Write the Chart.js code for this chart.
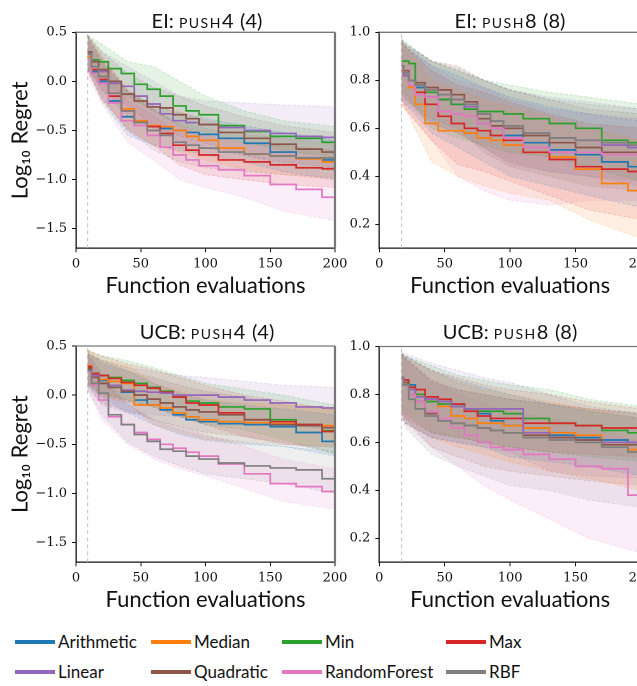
<!DOCTYPE html>
<html><head><meta charset="utf-8">
<script src="https://cdn.jsdelivr.net/npm/chart.js@4.4.1/dist/chart.umd.min.js"></script>
<style>
html,body{margin:0;padding:0;background:#fff;width:637px;height:686px;overflow:hidden;position:relative}
.pane{position:absolute}
.title{position:absolute;width:300px;font-family:Lato,sans-serif;font-size:20px;line-height:24px;color:#111;text-align:center;white-space:nowrap}
.sc{font-variant:small-caps;letter-spacing:1.5px}
.item{position:absolute;height:20px;line-height:20px;color:#111;font-family:Lato,sans-serif;font-size:17px;white-space:nowrap}
.sw{position:absolute;width:40px;height:4px;top:8px;left:0}
.lab{position:absolute;left:43px;top:0}
</style></head><body>
<div class="pane" style="left:0;top:0"><canvas id="c1" width="352" height="300"></canvas></div>
<div class="pane" style="left:300px;top:0"><canvas id="c2" width="360" height="300"></canvas></div>
<div class="pane" style="left:0;top:314px"><canvas id="c3" width="352" height="300"></canvas></div>
<div class="pane" style="left:300px;top:314px"><canvas id="c4" width="360" height="300"></canvas></div>
<div class="title" style="left:57px;top:8px">EI: <span class="sc">push4</span> (4)</div>
<div class="title" style="left:360px;top:8px">EI: <span class="sc">push8</span> (8)</div>
<div class="title" style="left:57px;top:319px">UCB: <span class="sc">push4</span> (4)</div>
<div class="title" style="left:360px;top:319px">UCB: <span class="sc">push8</span> (8)</div>
<div id="legend"></div>
<script>
// ---------------- data ----------------
const SERIES = ['Arithmetic','Median','Min','Max','Linear','Quadratic','RandomForest','RBF'];
const COLORS = ['#1f77b4','#ff7f0e','#2ca02c','#d62728','#9467bd','#8c564b','#e377c2','#7f7f7f'];
const X_TICKS = [0, 50, 100, 150, 200];
const Y_TICKS_PUSH4 = [-1.5, -1.0, -0.5, 0.0, 0.5];
const Y_TICKS_PUSH8 = [0.2, 0.4, 0.6, 0.8, 1.0];
const INIT_PUSH4 = 9;
const INIT_PUSH8 = 17;
// evaluation grids (mean lines / bands)
const X_PUSH4 = [9,15,20,30,40,50,60,70,80,90,100,120,140,160,180,200];
const X_PUSH8 = [17,20,25,30,40,50,60,70,80,90,100,120,140,160,180,200];
const B_PUSH4 = [9,20,40,60,80,100,130,160,200];
const B_PUSH8 = [17,20,40,60,80,100,130,160,200];

// EI: push4
const EI4_MEAN = {
  Arithmetic:  [0.25,0.1,0.0,-0.2,-0.36,-0.42,-0.46,-0.48,-0.5,-0.52,-0.54,-0.58,-0.63,-0.72,-0.78,-0.8],
  Median:      [0.25,0.12,0.05,-0.12,-0.28,-0.4,-0.45,-0.46,-0.5,-0.56,-0.6,-0.68,-0.74,-0.76,-0.79,-0.82],
  Min:         [0.28,0.22,0.2,0.13,0.08,-0.03,-0.08,-0.15,-0.25,-0.3,-0.34,-0.45,-0.51,-0.56,-0.58,-0.62],
  Max:         [0.28,0.12,0.02,-0.15,-0.3,-0.42,-0.46,-0.53,-0.65,-0.7,-0.75,-0.8,-0.82,-0.85,-0.88,-0.89],
  Linear:      [0.3,0.2,0.1,-0.02,-0.05,-0.15,-0.23,-0.33,-0.4,-0.42,-0.44,-0.47,-0.5,-0.53,-0.56,-0.57],
  Quadratic:   [0.3,0.2,0.12,0.0,-0.13,-0.2,-0.26,-0.27,-0.34,-0.38,-0.44,-0.52,-0.58,-0.64,-0.69,-0.72],
  RandomForest:[0.22,0.08,-0.02,-0.22,-0.4,-0.45,-0.55,-0.67,-0.75,-0.8,-0.86,-0.9,-0.96,-1.05,-1.1,-1.18],
  RBF:         [0.28,0.15,0.05,-0.12,-0.3,-0.42,-0.5,-0.55,-0.62,-0.65,-0.68,-0.72,-0.74,-0.76,-0.78,-0.78]
};
const EI4_LO = {
  Arithmetic:  [0.12,-0.2,-0.55,-0.65,-0.7,-0.75,-0.82,-0.92,-1.0],
  Median:      [0.1,-0.18,-0.48,-0.65,-0.72,-0.8,-0.9,-0.95,-1.0],
  Min:         [0.12,-0.02,-0.15,-0.3,-0.45,-0.52,-0.62,-0.7,-0.78],
  Max:         [0.12,-0.18,-0.5,-0.65,-0.85,-0.95,-1.0,-1.05,-1.08],
  Linear:      [0.14,-0.1,-0.25,-0.45,-0.62,-0.68,-0.75,-0.82,-0.88],
  Quadratic:   [0.14,-0.08,-0.35,-0.48,-0.55,-0.63,-0.75,-0.84,-0.92],
  RandomForest:[0.05,-0.22,-0.62,-0.8,-1.0,-1.08,-1.18,-1.32,-1.42],
  RBF:         [0.12,-0.15,-0.5,-0.7,-0.82,-0.88,-0.92,-0.95,-0.98]
};
const EI4_HI = {
  Arithmetic:  [0.45,0.2,-0.1,-0.25,-0.32,-0.38,-0.45,-0.52,-0.6],
  Median:      [0.45,0.25,-0.08,-0.25,-0.3,-0.4,-0.5,-0.58,-0.64],
  Min:         [0.47,0.38,0.2,0.15,0.0,-0.15,-0.3,-0.4,-0.46],
  Max:         [0.46,0.22,-0.1,-0.28,-0.45,-0.55,-0.62,-0.66,-0.7],
  Linear:      [0.47,0.3,0.15,0.0,-0.15,-0.2,-0.22,-0.24,-0.26],
  Quadratic:   [0.47,0.3,0.08,-0.06,-0.15,-0.25,-0.36,-0.45,-0.52],
  RandomForest:[0.4,0.18,-0.2,-0.35,-0.55,-0.66,-0.75,-0.85,-0.95],
  RBF:         [0.46,0.25,-0.1,-0.3,-0.42,-0.48,-0.54,-0.58,-0.6]
};

// EI: push8
const EI8_MEAN = {
  Arithmetic:  [0.84,0.83,0.8,0.77,0.73,0.72,0.7,0.69,0.62,0.6,0.57,0.54,0.51,0.49,0.46,0.44],
  Median:      [0.84,0.82,0.77,0.7,0.62,0.59,0.59,0.58,0.56,0.55,0.53,0.5,0.48,0.43,0.37,0.34],
  Min:         [0.88,0.88,0.87,0.78,0.75,0.72,0.7,0.68,0.67,0.67,0.66,0.64,0.62,0.6,0.55,0.54],
  Max:         [0.85,0.82,0.8,0.75,0.7,0.65,0.62,0.6,0.59,0.57,0.55,0.5,0.47,0.44,0.43,0.42],
  Linear:      [0.85,0.82,0.8,0.78,0.76,0.74,0.72,0.69,0.66,0.63,0.6,0.58,0.56,0.55,0.53,0.52],
  Quadratic:   [0.86,0.84,0.8,0.79,0.77,0.76,0.74,0.71,0.64,0.61,0.6,0.57,0.54,0.52,0.5,0.5],
  RandomForest:[0.85,0.83,0.78,0.74,0.73,0.67,0.66,0.65,0.62,0.6,0.56,0.52,0.5,0.5,0.49,0.49],
  RBF:         [0.86,0.83,0.8,0.78,0.76,0.74,0.72,0.7,0.66,0.63,0.61,0.58,0.56,0.55,0.54,0.53]
};
const EI8_LO = {
  Arithmetic:  [0.72,0.7,0.58,0.52,0.46,0.4,0.36,0.32,0.27],
  Median:      [0.7,0.68,0.46,0.4,0.36,0.33,0.3,0.22,0.14],
  Min:         [0.76,0.74,0.6,0.56,0.53,0.5,0.48,0.44,0.38],
  Max:         [0.72,0.68,0.55,0.45,0.42,0.38,0.32,0.26,0.22],
  Linear:      [0.72,0.7,0.62,0.58,0.52,0.45,0.42,0.4,0.36],
  Quadratic:   [0.74,0.72,0.64,0.6,0.5,0.44,0.4,0.36,0.34],
  RandomForest:[0.7,0.68,0.55,0.4,0.34,0.3,0.28,0.3,0.3],
  RBF:         [0.74,0.72,0.62,0.58,0.52,0.46,0.42,0.4,0.38]
};
const EI8_HI = {
  Arithmetic:  [0.96,0.94,0.86,0.82,0.77,0.73,0.69,0.66,0.63],
  Median:      [0.96,0.94,0.8,0.76,0.72,0.69,0.65,0.6,0.55],
  Min:         [0.97,0.96,0.88,0.84,0.8,0.78,0.75,0.73,0.7],
  Max:         [0.96,0.94,0.84,0.78,0.75,0.71,0.66,0.62,0.6],
  Linear:      [0.97,0.95,0.88,0.84,0.8,0.76,0.73,0.71,0.68],
  Quadratic:   [0.97,0.95,0.88,0.86,0.8,0.76,0.72,0.68,0.66],
  RandomForest:[0.96,0.94,0.86,0.8,0.77,0.72,0.68,0.66,0.64],
  RBF:         [0.97,0.95,0.88,0.85,0.8,0.76,0.72,0.7,0.68]
};

// UCB: push4
const UCB4_MEAN = {
  Arithmetic:  [0.26,0.2,0.15,0.08,0.03,-0.05,-0.1,-0.15,-0.2,-0.25,-0.27,-0.29,-0.3,-0.32,-0.38,-0.47],
  Median:      [0.3,0.2,0.16,0.14,0.12,-0.1,-0.1,-0.13,-0.18,-0.22,-0.25,-0.27,-0.28,-0.29,-0.3,-0.31],
  Min:         [0.28,0.22,0.2,0.18,0.15,0.12,0.08,0.04,-0.02,-0.06,-0.08,-0.12,-0.14,-0.25,-0.3,-0.36],
  Max:         [0.29,0.22,0.2,0.17,0.13,0.1,0.07,0.03,-0.02,-0.08,-0.1,-0.18,-0.25,-0.27,-0.3,-0.37],
  Linear:      [0.25,0.2,0.12,0.1,0.05,0.04,0.03,0.02,0.0,0.0,0.0,-0.02,-0.05,-0.08,-0.12,-0.13],
  Quadratic:   [0.27,0.18,0.12,0.08,0.04,0.0,-0.04,-0.08,-0.12,-0.15,-0.17,-0.2,-0.25,-0.3,-0.31,-0.33],
  RandomForest:[0.24,0.1,-0.05,-0.22,-0.3,-0.38,-0.45,-0.5,-0.54,-0.58,-0.62,-0.7,-0.8,-0.9,-0.93,-0.98],
  RBF:         [0.25,0.12,0.02,-0.2,-0.3,-0.4,-0.47,-0.55,-0.57,-0.62,-0.65,-0.69,-0.72,-0.74,-0.76,-0.85]
};
const UCB4_LO = {
  Arithmetic:  [0.1,-0.02,-0.18,-0.3,-0.4,-0.46,-0.5,-0.52,-0.62],
  Median:      [0.12,-0.02,-0.08,-0.3,-0.38,-0.45,-0.48,-0.5,-0.52],
  Min:         [0.12,0.02,-0.05,-0.12,-0.22,-0.3,-0.35,-0.45,-0.6],
  Max:         [0.12,0.0,-0.06,-0.12,-0.22,-0.3,-0.42,-0.48,-0.58],
  Linear:      [0.08,-0.1,-0.18,-0.2,-0.22,-0.24,-0.28,-0.3,-0.35],
  Quadratic:   [0.1,-0.08,-0.16,-0.25,-0.32,-0.38,-0.42,-0.5,-0.53],
  RandomForest:[0.06,-0.25,-0.5,-0.65,-0.75,-0.82,-0.95,-1.08,-1.16],
  RBF:         [0.05,-0.2,-0.48,-0.62,-0.72,-0.8,-0.85,-0.9,-1.0]
};
const UCB4_HI = {
  Arithmetic:  [0.42,0.35,0.25,0.12,0.02,-0.05,-0.1,-0.14,-0.2],
  Median:      [0.45,0.36,0.3,0.12,0.04,-0.04,-0.08,-0.1,-0.12],
  Min:         [0.45,0.4,0.35,0.28,0.2,0.12,0.06,0.0,-0.1],
  Max:         [0.46,0.4,0.32,0.26,0.18,0.1,0.0,-0.06,-0.15],
  Linear:      [0.42,0.35,0.28,0.24,0.2,0.18,0.14,0.1,0.08],
  Quadratic:   [0.44,0.32,0.24,0.18,0.1,0.04,-0.02,-0.1,-0.14],
  RandomForest:[0.42,0.15,-0.1,-0.25,-0.32,-0.4,-0.52,-0.65,-0.75],
  RBF:         [0.42,0.22,-0.1,-0.25,-0.35,-0.42,-0.48,-0.52,-0.58]
};

// UCB: push8
const UCB8_MEAN = {
  Arithmetic:  [0.87,0.86,0.84,0.8,0.78,0.77,0.76,0.74,0.72,0.69,0.67,0.66,0.63,0.62,0.61,0.6],
  Median:      [0.86,0.85,0.82,0.8,0.78,0.75,0.71,0.7,0.68,0.68,0.67,0.66,0.64,0.63,0.6,0.57],
  Min:         [0.86,0.85,0.83,0.8,0.77,0.76,0.75,0.74,0.73,0.73,0.72,0.7,0.68,0.67,0.65,0.64],
  Max:         [0.87,0.86,0.83,0.82,0.79,0.78,0.76,0.73,0.71,0.7,0.7,0.68,0.68,0.67,0.66,0.66],
  Linear:      [0.86,0.84,0.82,0.79,0.78,0.77,0.75,0.74,0.74,0.74,0.74,0.64,0.62,0.61,0.6,0.6],
  Quadratic:   [0.87,0.85,0.8,0.77,0.72,0.69,0.68,0.67,0.66,0.65,0.64,0.63,0.62,0.61,0.59,0.59],
  RandomForest:[0.86,0.84,0.8,0.77,0.73,0.7,0.66,0.63,0.6,0.58,0.57,0.55,0.53,0.5,0.49,0.38],
  RBF:         [0.87,0.84,0.78,0.74,0.71,0.69,0.68,0.67,0.66,0.65,0.64,0.62,0.61,0.6,0.58,0.56]
};
const UCB8_LO = {
  Arithmetic:  [0.7,0.68,0.62,0.6,0.58,0.54,0.52,0.5,0.46],
  Median:      [0.7,0.68,0.62,0.58,0.55,0.52,0.48,0.45,0.4],
  Min:         [0.74,0.72,0.64,0.62,0.6,0.58,0.56,0.54,0.52],
  Max:         [0.73,0.7,0.64,0.62,0.6,0.58,0.56,0.55,0.54],
  Linear:      [0.72,0.68,0.62,0.6,0.58,0.56,0.48,0.46,0.45],
  Quadratic:   [0.74,0.7,0.58,0.54,0.5,0.48,0.46,0.44,0.42],
  RandomForest:[0.72,0.68,0.58,0.5,0.42,0.36,0.28,0.2,0.14],
  RBF:         [0.72,0.66,0.55,0.5,0.46,0.42,0.4,0.36,0.33]
};
const UCB8_HI = {
  Arithmetic:  [0.97,0.96,0.9,0.86,0.83,0.8,0.76,0.73,0.7],
  Median:      [0.97,0.95,0.9,0.85,0.82,0.8,0.77,0.74,0.7],
  Min:         [0.97,0.96,0.92,0.88,0.86,0.84,0.82,0.78,0.75],
  Max:         [0.97,0.96,0.9,0.87,0.84,0.82,0.8,0.77,0.74],
  Linear:      [0.98,0.97,0.93,0.9,0.87,0.85,0.8,0.75,0.72],
  Quadratic:   [0.97,0.95,0.86,0.82,0.8,0.78,0.76,0.74,0.72],
  RandomForest:[0.97,0.95,0.86,0.8,0.76,0.73,0.7,0.66,0.6],
  RBF:         [0.97,0.95,0.85,0.82,0.8,0.78,0.76,0.74,0.72]
};

// ---------------- drawing ----------------
function rgba(hex, a) {
  const n = parseInt(hex.slice(1), 16);
  return `rgba(${(n>>16)&255},${(n>>8)&255},${n&255},${a})`;
}
function buildDatasets(X, B, MEAN, LO, HI, init, yMin, yMax) {
  const ds = [];
  ds.push({label:'init', data:[{x:init,y:yMin},{x:init,y:yMax}], borderColor:'#c4c4c4', borderWidth:1,
    borderDash:[4,3], pointRadius:0, fill:false, order:300});
  SERIES.forEach((name, i) => {
    const c = COLORS[i];
    ds.push({label:name+' lo', data:B.map((x,k)=>({x, y:LO[name][k]})), borderColor:rgba(c,0.22),
      borderWidth:0.9, borderDash:[3,2], pointRadius:0, fill:false, order:100, tension:0});
    ds.push({label:name+' hi', data:B.map((x,k)=>({x, y:HI[name][k]})), borderColor:rgba(c,0.22),
      borderWidth:0.9, borderDash:[3,2], pointRadius:0, fill:'-1', backgroundColor:rgba(c,0.12), order:100, tension:0});
  });
  SERIES.forEach((name, i) => {
    ds.push({label:name, data:X.map((x,k)=>({x, y:MEAN[name][k]})), borderColor:COLORS[i],
      borderWidth:1.7, pointRadius:0, stepped:'middle', fill:false, order:20 - i});
  });
  return ds;
}
const framePlugin = {
  id: 'frame',
  afterDraw(chart) {
    const {ctx, chartArea: a} = chart;
    ctx.save();
    ctx.strokeStyle = '#777';
    ctx.lineWidth = 1.3;
    ctx.beginPath(); ctx.moveTo(a.left, a.top); ctx.lineTo(a.right, a.top); ctx.stroke();
    ctx.lineWidth = 2.2;
    ctx.beginPath(); ctx.moveTo(a.right, a.top); ctx.lineTo(a.right, a.bottom); ctx.stroke();
    ctx.restore();
  }
};
function fmt(v) { return v.toFixed(1).replace('-', '\u2212'); }

function makeChart(id, opt) {
  const ctx = document.getElementById(id);
  new Chart(ctx, {
    type: 'line',
    data: { datasets: buildDatasets(opt.X, opt.B, opt.MEAN, opt.LO, opt.HI, opt.init, opt.yMin, opt.yMax) },
    plugins: [framePlugin],
    options: {
      responsive: false, animation: false, devicePixelRatio: 2,
      layout: { padding: { left: 0, right: opt.padRight, top: opt.padTop, bottom: 0 } },
      plugins: { legend: { display: false }, tooltip: { enabled: false } },
      elements: { line: { borderCapStyle: 'butt' } },
      scales: {
        x: {
          type: 'linear', min: 0, max: 200,
          afterBuildTicks: s => { s.ticks = X_TICKS.map(v => ({value: v})); },
          afterFit: s => { s.height = opt.xH; },
          grid: { display: true, drawOnChartArea: false, drawTicks: true, tickLength: 4, color: '#111', tickColor: '#111', tickWidth: 1 },
          border: { display: true, color: '#111', width: 1.3 },
          ticks: { font: { family: 'DejaVu Serif', size: 13 }, color: '#111', padding: 4, maxRotation: 0, autoSkip: false,
                   callback: v => String(v) },
          title: { display: true, text: 'Function evaluations', font: { family: 'Lato', size: 22 }, color: '#111',
                   padding: { top: 0, bottom: 1 } }
        },
        y: {
          type: 'linear', min: opt.yMin, max: opt.yMax,
          afterBuildTicks: s => { s.ticks = opt.yTicks.map(v => ({value: v})); },
          afterFit: s => { s.width = opt.yW; },
          grid: { display: true, drawOnChartArea: false, drawTicks: true, tickLength: 4, color: '#111', tickColor: '#111', tickWidth: 1 },
          border: { display: true, color: '#111', width: 1.3 },
          ticks: { font: { family: 'DejaVu Serif', size: 13 }, color: '#111', padding: 5, autoSkip: false,
                   callback: v => fmt(v) },
          title: { display: opt.yTitle, text: 'Log\u2081\u2080 Regret', font: { family: 'Lato', size: 22 }, color: '#111',
                   padding: { top: 7, bottom: 0 } }
        }
      }
    }
  });
}

makeChart('c1', {X:X_PUSH4, B:B_PUSH4, MEAN:EI4_MEAN, LO:EI4_LO, HI:EI4_HI, init:INIT_PUSH4,
  yMin:-1.7, yMax:0.5, yTicks:Y_TICKS_PUSH4, padRight:17, padTop:32.3, xH:51.7, yW:76, yTitle:true});
makeChart('c2', {X:X_PUSH8, B:B_PUSH8, MEAN:EI8_MEAN, LO:EI8_LO, HI:EI8_HI, init:INIT_PUSH8,
  yMin:0.1, yMax:1.0, yTicks:Y_TICKS_PUSH8, padRight:19, padTop:32.3, xH:51.7, yW:79.3, yTitle:false});
makeChart('c3', {X:X_PUSH4, B:B_PUSH4, MEAN:UCB4_MEAN, LO:UCB4_LO, HI:UCB4_HI, init:INIT_PUSH4,
  yMin:-1.7, yMax:0.5, yTicks:Y_TICKS_PUSH4, padRight:17, padTop:32, xH:51.7, yW:76, yTitle:true});
makeChart('c4', {X:X_PUSH8, B:B_PUSH8, MEAN:UCB8_MEAN, LO:UCB8_LO, HI:UCB8_HI, init:INIT_PUSH8,
  yMin:0.1, yMax:1.0, yTicks:Y_TICKS_PUSH8, padRight:19, padTop:32.5, xH:51.7, yW:79.3, yTitle:false});

// legend
const LEG_X = [15, 151, 282, 446];
const LEG_Y = [632, 662];
const leg = document.getElementById('legend');
SERIES.forEach((name, i) => {
  const d = document.createElement('div');
  d.className = 'item';
  d.style.left = LEG_X[i % 4] + 'px';
  d.style.top = LEG_Y[Math.floor(i / 4)] + 'px';
  d.innerHTML = `<div class="sw" style="background:${COLORS[i]}"></div><span class="lab">${name}</span>`;
  leg.appendChild(d);
});
</script>
</body></html>
